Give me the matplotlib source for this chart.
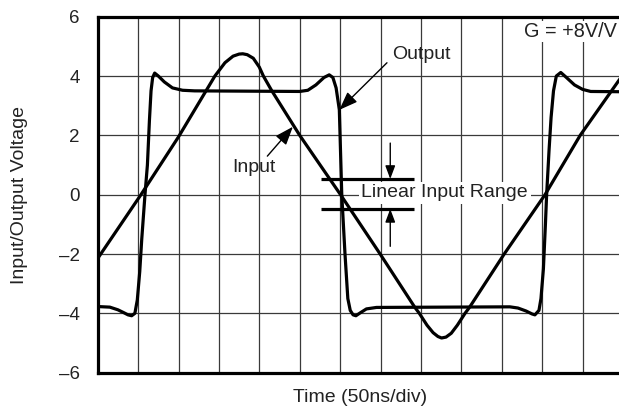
import numpy as np
import matplotlib.pyplot as plt

plt.rcParams['font.family'] = ['Liberation Sans', 'DejaVu Sans']

# time in divisions (50ns/div), voltage in V
in_t = [0.0, 1.07, 2.0, 2.9, 3.15, 3.35, 3.5, 3.59, 3.7, 3.85, 4.0, 4.1, 4.31, 5.0,
        6.01, 6.99, 7.85, 7.96, 8.15, 8.3, 8.42, 8.51, 8.62, 8.75, 8.9, 9.09, 9.2,
        10.06, 11.07, 11.94, 13.0]
in_v = [-2.15, 0.0, 1.95, 4.0, 4.45, 4.67, 4.74, 4.75, 4.72, 4.6, 4.3, 4.0, 3.5, 2.0,
        0.0, -2.0, -3.8, -4.0, -4.4, -4.65, -4.78, -4.83, -4.8, -4.67, -4.4, -4.0, -3.8,
        -2.0, 0.0, 2.0, 4.05]

out_t = [0.0, 0.3, 0.5, 0.65, 0.75, 0.84, 0.92, 0.98, 1.04, 1.09, 1.17, 1.23, 1.28,
         1.32, 1.36, 1.41, 1.5, 1.65, 1.85, 2.1, 2.4, 5.0, 5.2, 5.4, 5.6, 5.73, 5.82,
         5.9, 5.98, 6.04, 6.12, 6.19, 6.25, 6.32, 6.39, 6.5, 6.65, 6.9, 10.2, 10.4,
         10.6, 10.75, 10.82, 10.92, 10.97, 11.03, 11.08, 11.11, 11.17, 11.22, 11.28,
         11.35, 11.46, 11.6, 11.8, 12.0, 12.2, 13.0]
out_v = [-3.77, -3.79, -3.88, -3.98, -4.05, -4.08, -4.0, -3.55, -2.6, -1.5, 0.0, 1.0, 2.5,
         3.5, 3.95, 4.1, 4.0, 3.8, 3.6, 3.52, 3.5, 3.48, 3.52, 3.7, 3.95, 4.04, 3.95,
         3.6, 2.86, 0.0, -2.0, -3.5, -3.9, -4.05, -4.08, -3.98, -3.85, -3.8, -3.78, -3.82,
         -3.92, -4.02, -4.05, -3.9, -3.5, -2.5, -1.0, 0.0, 1.5, 2.6, 3.5,
         4.0, 4.12, 3.95, 3.7, 3.55, 3.48, 3.47]

y_ticks = [-6, -4, -2, 0, 2, 4, 6]
range_hi = 0.53
range_lo = -0.48

fig = plt.figure(figsize=(6.19, 4.11), dpi=100)
ax = fig.add_axes([97.7 / 619, 38.3 / 411, 525.3 / 619, 356 / 411])

ax.set_xlim(0, 13)
ax.set_ylim(-6, 6)
ax.set_xticks(np.arange(0, 14, 1))
ax.set_xticklabels([])
ax.set_yticks(y_ticks)
ax.set_yticklabels(['\u2013' + str(-v) if v < 0 else str(v) for v in y_ticks])
ax.tick_params(length=0, labelsize=13.5, pad=13, labelcolor='#222')
ax.grid(True, color='#3a3a3a', lw=0.9)
ax.set_axisbelow(True)
for s in ['left', 'bottom', 'top']:
    ax.spines[s].set_linewidth(2.3)
ax.spines['right'].set_visible(False)

ax.plot(in_t, in_v, c='k', lw=2.3, solid_joinstyle='round')
ax.plot(out_t, out_v, c='k', lw=2.3, solid_joinstyle='round')

ax.set_xlabel('Time (50ns/div)', fontsize=14, color='#222')
ax.xaxis.set_label_coords(0.5, -0.046)
ax.set_ylabel('Input/Output Voltage', fontsize=14, color='#222')
ax.yaxis.set_label_coords(-0.132, 0.5)

# annotations
ax.text(12.85, 5.5, 'G = +8V/V', fontsize=14.3, ha='right', va='center', color='#222',
        bbox=dict(fc='white', ec='none', pad=1))
arr = dict(arrowstyle='-|>,head_length=0.8,head_width=0.3', color='k', lw=1)
ax.annotate('Input', xy=(4.83, 2.29), xytext=(3.87, 0.92), fontsize=14, color='#222',
            ha='center', va='center', arrowprops=dict(arr, shrinkA=0, shrinkB=0,
                                                      relpos=(0.75, 1.0)))
ax.annotate('Output', xy=(5.98, 2.86), xytext=(8.0, 4.72), fontsize=14, color='#222',
            ha='center', va='center', arrowprops=dict(arr, shrinkA=2, shrinkB=0,
                                                      relpos=(0.0, 0.3)))

ax.hlines([range_hi, range_lo], 5.53, 7.83, colors='k', lw=2.3)
ax.annotate('', xy=(7.24, range_hi), xytext=(7.24, 1.74),
            arrowprops=dict(arr, shrinkA=0, shrinkB=0))
ax.annotate('', xy=(7.24, range_lo), xytext=(7.24, -1.74),
            arrowprops=dict(arr, shrinkA=0, shrinkB=0))
ax.text(8.59, 0.06, 'Linear Input Range', fontsize=14, ha='center', va='center',
        color='#222', bbox=dict(fc='white', ec='none', pad=2))

plt.savefig('out.png', dpi=100)
